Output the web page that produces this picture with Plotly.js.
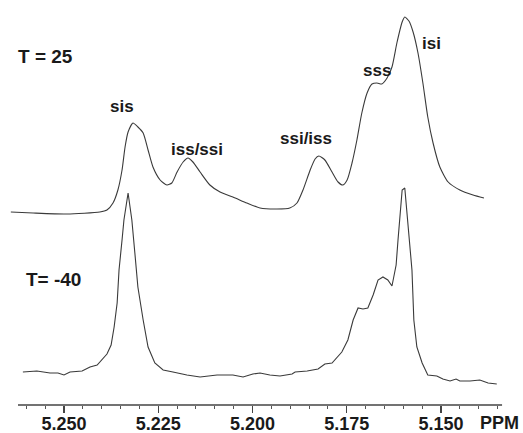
<!DOCTYPE html>
<html>
<head>
<meta charset="utf-8">
<script src="https://cdn.plot.ly/plotly-3.0.1.min.js"></script>
<style>html,body{margin:0;padding:0;background:#fff;}#chart{width:523px;height:433px;}</style>
</head>
<body>
<div id="chart"></div>
<script>
// Spectrum at T = 25 (chemical shift in ppm, stacked intensity a.u.)
var ppm25 = [5.2641,5.2582,5.2492,5.2405,5.2386,5.2370,5.2357,5.2346,5.2338,5.2330,
  5.2317,5.2304,5.2290,5.2277,5.2264,5.2245,5.2227,5.2214,5.2200,5.2184,
  5.2171,5.2158,5.2139,5.2113,5.2086,5.2052,5.2015,5.1980,5.1935,5.1901,
  5.1882,5.1866,5.1847,5.1834,5.1824,5.1808,5.1789,5.1773,5.1760,5.1749,
  5.1736,5.1723,5.1710,5.1696,5.1683,5.1670,5.1657,5.1643,5.1630,5.1617,
  5.1603,5.1596,5.1585,5.1574,5.1561,5.1548,5.1535,5.1521,5.1503,5.1481,
  5.1450,5.1415,5.1386];
var int25 = [192,191,190,192,194,201,214,234,257,272,
  281,277,271,254,237,224,219,221,232,242,
  246,242,232,219,212,207,201,196,195,196,
  201,214,234,245,248,244,232,222,219,224,
  241,264,291,311,320,321,320,326,337,361,
  382,387,383,372,351,321,287,261,237,222,
  214,209,206];

// Spectrum at T = -40
var ppmM40 = [5.2609,5.2572,5.2537,5.2516,5.2500,5.2484,5.2452,5.2431,5.2412,5.2399,
  5.2386,5.2375,5.2367,5.2359,5.2354,5.2346,5.2341,5.2330,5.2320,5.2312,
  5.2304,5.2290,5.2277,5.2259,5.2237,5.2211,5.2174,5.2139,5.2094,5.2052,
  5.2025,5.1999,5.1980,5.1954,5.1927,5.1895,5.1887,5.1855,5.1826,5.1808,
  5.1789,5.1763,5.1747,5.1733,5.1720,5.1707,5.1694,5.1680,5.1667,5.1654,
  5.1641,5.1630,5.1619,5.1614,5.1609,5.1603,5.1596,5.1593,5.1588,5.1577,
  5.1572,5.1564,5.1550,5.1535,5.1511,5.1495,5.1476,5.1460,5.1450,5.1423,
  5.1397,5.1375,5.1352];
var intM40 = [32,33,31,31,29,32,33,37,39,44,
  50,59,77,101,134,164,184,211,184,151,
  117,84,57,41,34,32,29,27,29,29,
  27,30,31,29,28,30,32,33,35,40,
  41,52,64,84,96,95,96,109,124,127,
  124,118,139,164,184,214,216,204,182,134,
  84,57,41,29,28,25,23,25,23,23,
  24,21,20];

// Tick labels
var tickVals = [5.250,5.225,5.200,5.175,5.150];
var tickText = ["5.250","5.225","5.200","5.175","5.150"];

// Peak / temperature labels
var labelText = ["T = 25","sis","iss/ssi","ssi/iss","sss","isi","T= -40"];
var labelX = [5.2549,5.2347,5.2146,5.1858,5.1670,5.1525,5.2529];
var labelY = [347.7,298,255,266,334,361,124.7];
var labelSize = [19,17,17,17,17,17,19];

var traces = [
  {x:ppm25, y:int25, type:'scatter', mode:'lines', line:{color:'#3a3a3a', width:1.1, shape:'spline', smoothing:0.6}, hoverinfo:'skip'},
  {x:ppmM40, y:intM40, type:'scatter', mode:'lines', line:{color:'#3a3a3a', width:1.1}, hoverinfo:'skip'}
];

var fontFam = '"Liberation Sans", Arial, Helvetica, sans-serif';
var annotations = labelText.map(function(t,i){
  return {x:labelX[i], y:labelY[i], xref:'x', yref:'y', text:t, showarrow:false,
    xanchor:'center', yanchor:'middle',
    font:{family:fontFam, size:labelSize[i], color:'#1a1a1a', weight:700}};
});
annotations.push({x:0.988, y:-0.045, xref:'paper', yref:'paper', text:'PPM', showarrow:false,
  xanchor:'center', yanchor:'middle',
  font:{family:fontFam, size:18, color:'#1a1a1a', weight:700}});

var layout = {
  width:523, height:433,
  margin:{l:10, r:18, t:0, b:28, pad:0},
  paper_bgcolor:'#ffffff', plot_bgcolor:'#ffffff',
  showlegend:false,
  xaxis:{
    range:[5.26432, 5.13302],
    showgrid:false, zeroline:false, showline:false,
    tickmode:'array', tickvals:tickVals, ticktext:tickText,
    ticks:'outside', ticklen:7, tickwidth:1.2, tickcolor:'#444',
    ticklabelstandoff:-5,
    minor:{ticks:'outside', ticklen:3, tickwidth:1, tickcolor:'#555', dtick:0.005, tick0:5.150, showgrid:false},
    tickfont:{family:fontFam, size:18, color:'#1a1a1a', weight:700}
  },
  yaxis:{range:[-1,404], visible:false, fixedrange:true},
  shapes:[{type:'line', xref:'x', yref:'paper', x0:5.2622, x1:5.1338, y0:0, y1:0,
    line:{color:'#444', width:1.3}}],
  annotations:annotations
};

Plotly.newPlot('chart', traces, layout, {staticPlot:true, displayModeBar:false});
</script>
</body>
</html>
